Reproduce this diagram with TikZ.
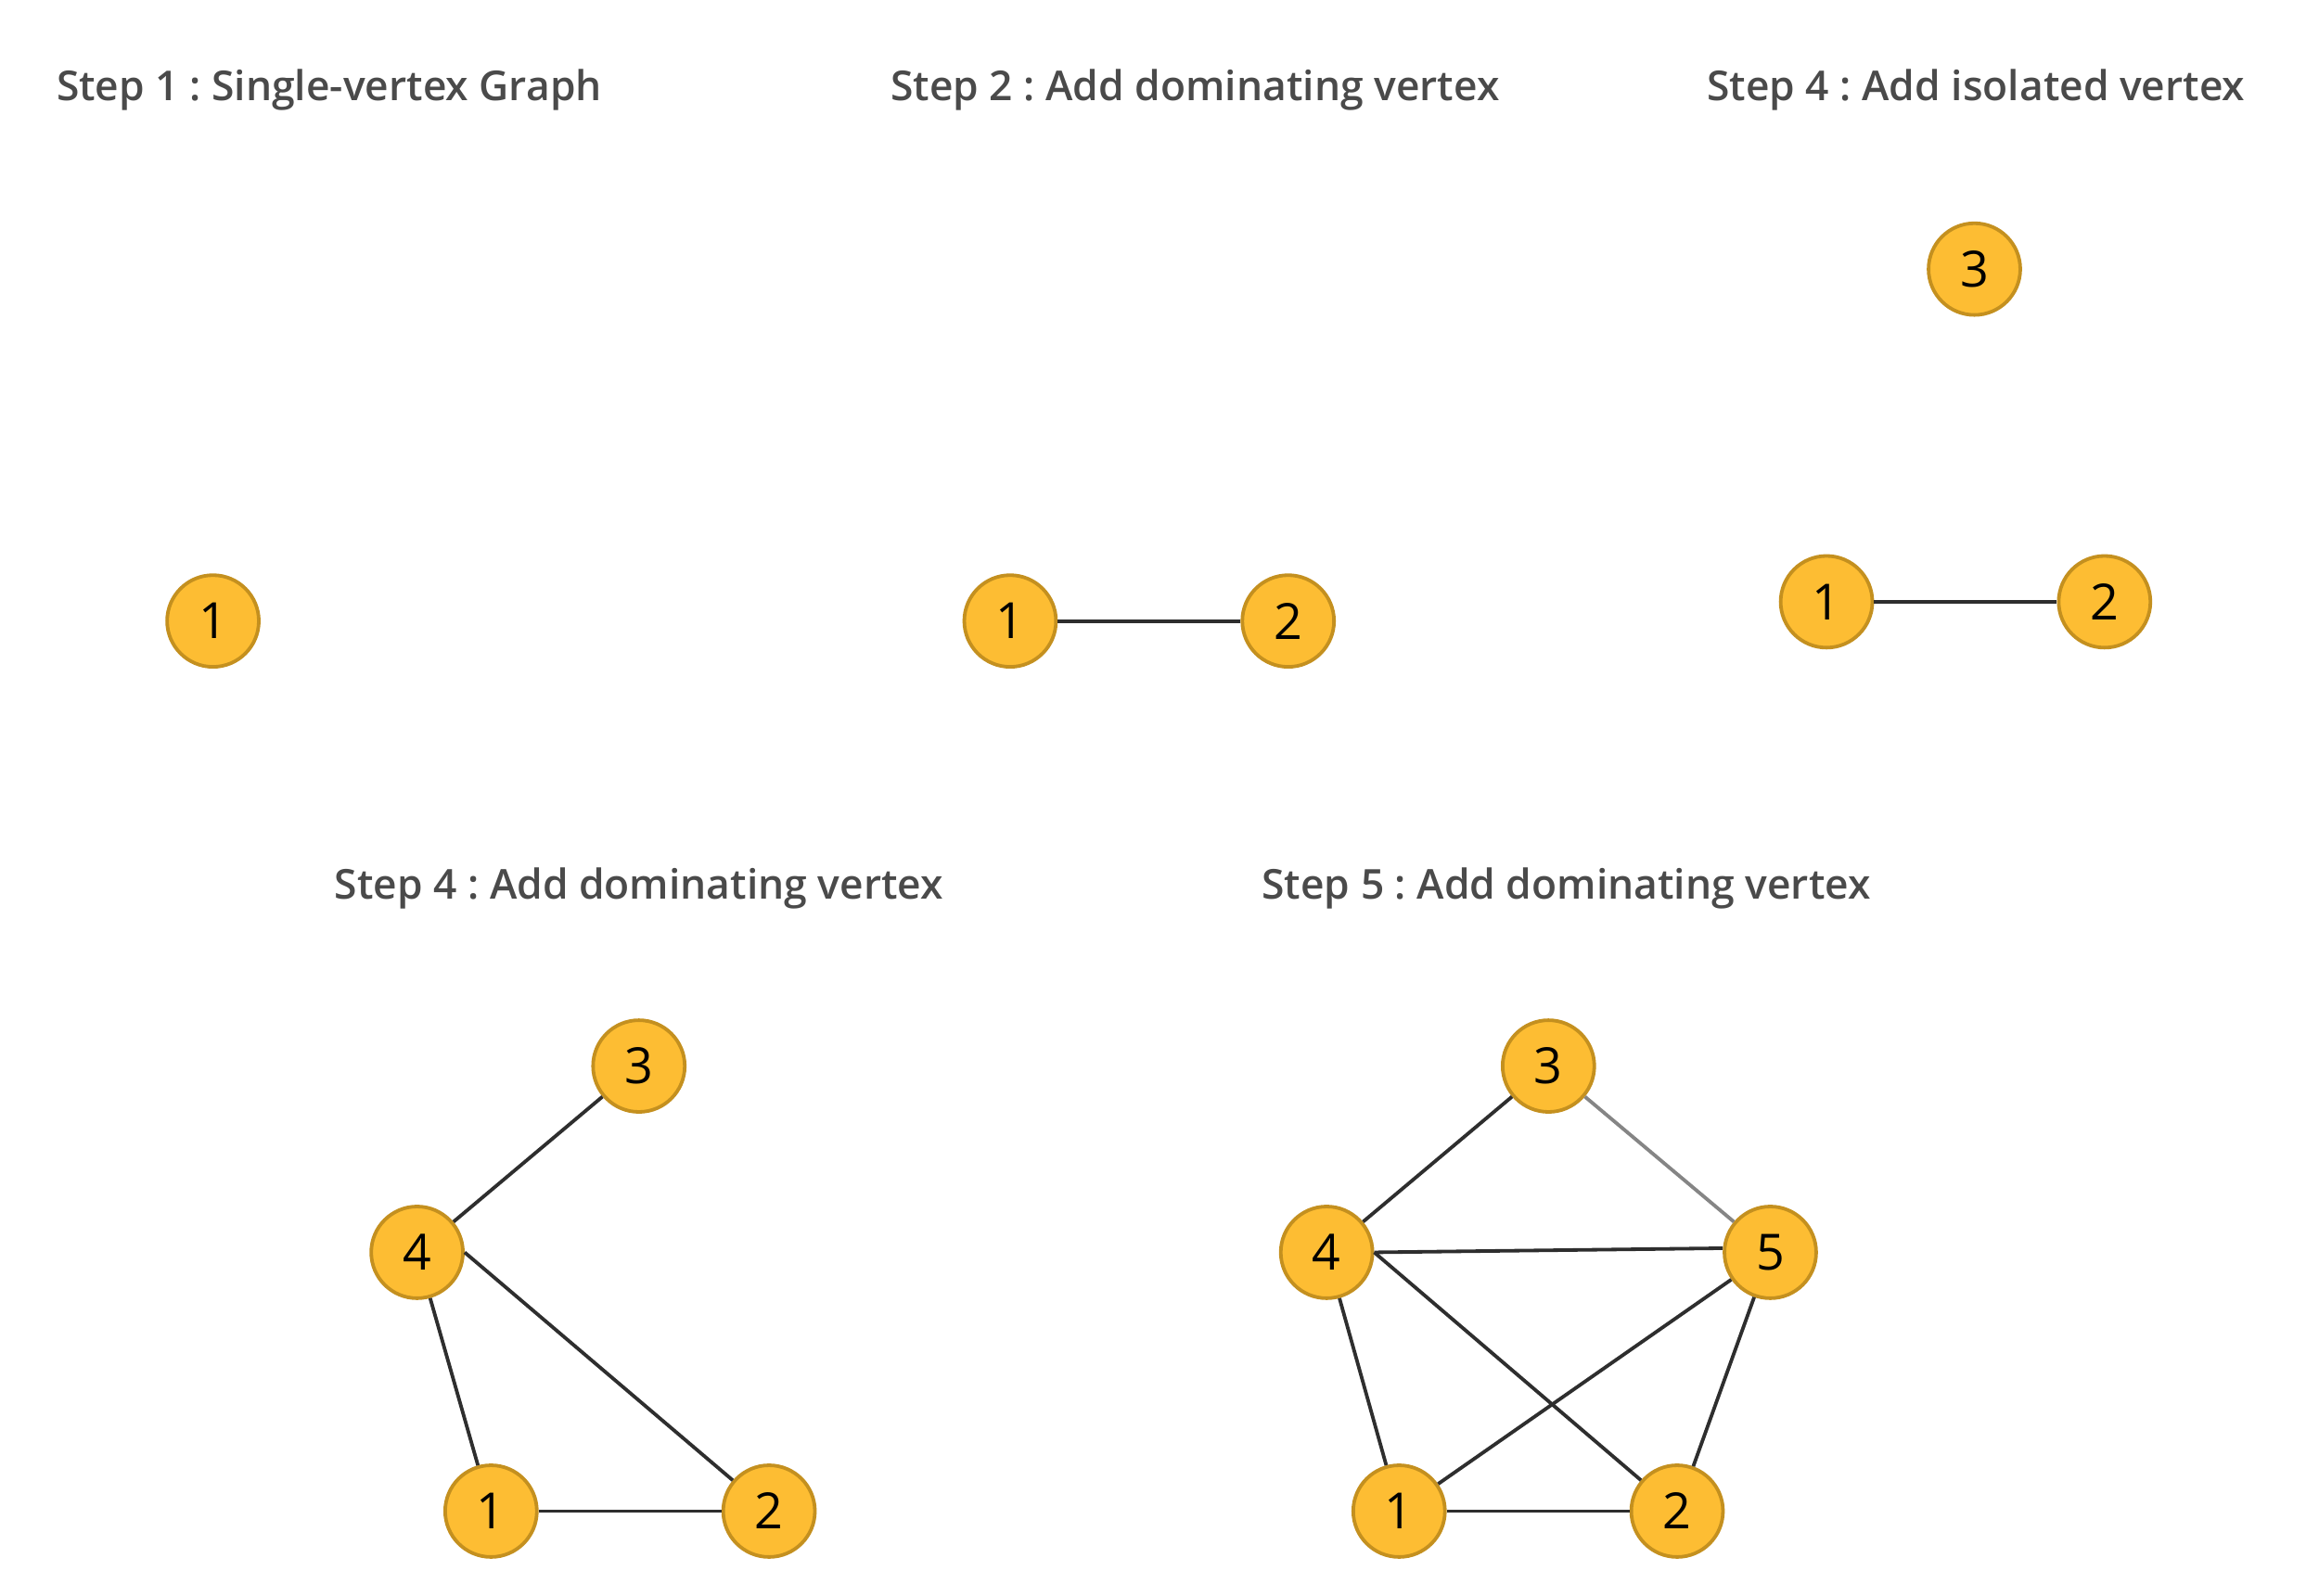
\documentclass[tikz,border=0pt]{standalone}
\usepackage{fontspec}
\setmainfont{Open Sans}
\newfontfamily\titlefont{Open Sans Semibold}
\frenchspacing
\definecolor{vfill}{HTML}{FDBD33}
\definecolor{vdraw}{HTML}{C4901F}
\definecolor{ttext}{HTML}{4A4A4A}
\definecolor{edgec}{HTML}{2E2E2E}
\definecolor{edgeg}{HTML}{858585}
\begin{document}
\begin{tikzpicture}[x=0.025cm,y=-0.025cm,
  vtx/.style={circle,fill=vfill,draw=vdraw,line width=1.7pt,minimum size=1.55cm,inner sep=0pt,font=\fontsize{24}{28}\selectfont},
  ttl/.style={anchor=west,text=ttext,inner sep=0pt,font=\titlefont\fontsize{19.8}{24}\selectfont},
  edge/.style={draw=edgec,line width=1.7pt},
  gedge/.style={draw=edgeg,line width=1.7pt}]
\useasboundingbox (0,0) rectangle (1568,1079);
% titles
\node[ttl] (t1) at (38,61) {Step 1 : Single-vertex Graph};
\node[ttl] (t2) at (602,61) {Step 2 : Add dominating vertex};
\node[ttl] (t3) at (1154,61) {Step 4 : Add isolated vertex};
\node[ttl] (t4) at (226,601) {Step 4 : Add dominating vertex};
\node[ttl] (t5) at (853,601) {Step 5 : Add dominating vertex};
% step 1
\node[vtx] (a1) at (144,420) {1};
% step 2
\node[vtx] (b1) at (683,420) {1};
\node[vtx] (b2) at (871,420) {2};
\draw[edge] (b1) -- (b2);
% step 3
\node[vtx] (c3) at (1335,182) {3};
\node[vtx] (c1) at (1235,407) {1};
\node[vtx] (c2) at (1423,407) {2};
\draw[edge] (c1) -- (c2);
% step 4
\node[vtx] (d3) at (432,721) {3};
\node[vtx] (d4) at (282,847) {4};
\node[vtx] (d1) at (332,1022) {1};
\node[vtx] (d2) at (520,1022) {2};
\draw[edge] (d4) -- (d3);
\draw[edge] (d4) -- (d1);
\draw[edge] (d4.east) -- (d2);
\draw[edge] (d1) -- (d2);
% step 5
\node[vtx] (e3) at (1047,721) {3};
\node[vtx] (e4) at (897,847) {4};
\node[vtx] (e5) at (1197,847) {5};
\node[vtx] (e1) at (946,1022) {1};
\node[vtx] (e2) at (1134,1022) {2};
\draw[edge] (e4) -- (e3);
\draw[gedge] (e3) -- (e5);
\draw[edge] (e4.east) -- ([yshift=2pt]e5.west);
\draw[edge] (e4) -- (e1);
\draw[edge] (e4.east) -- (e2);
\draw[edge] (e5) -- (e1);
\draw[edge] (e5) -- (e2);
\draw[edge] (e1) -- (e2);
\end{tikzpicture}
\end{document}
